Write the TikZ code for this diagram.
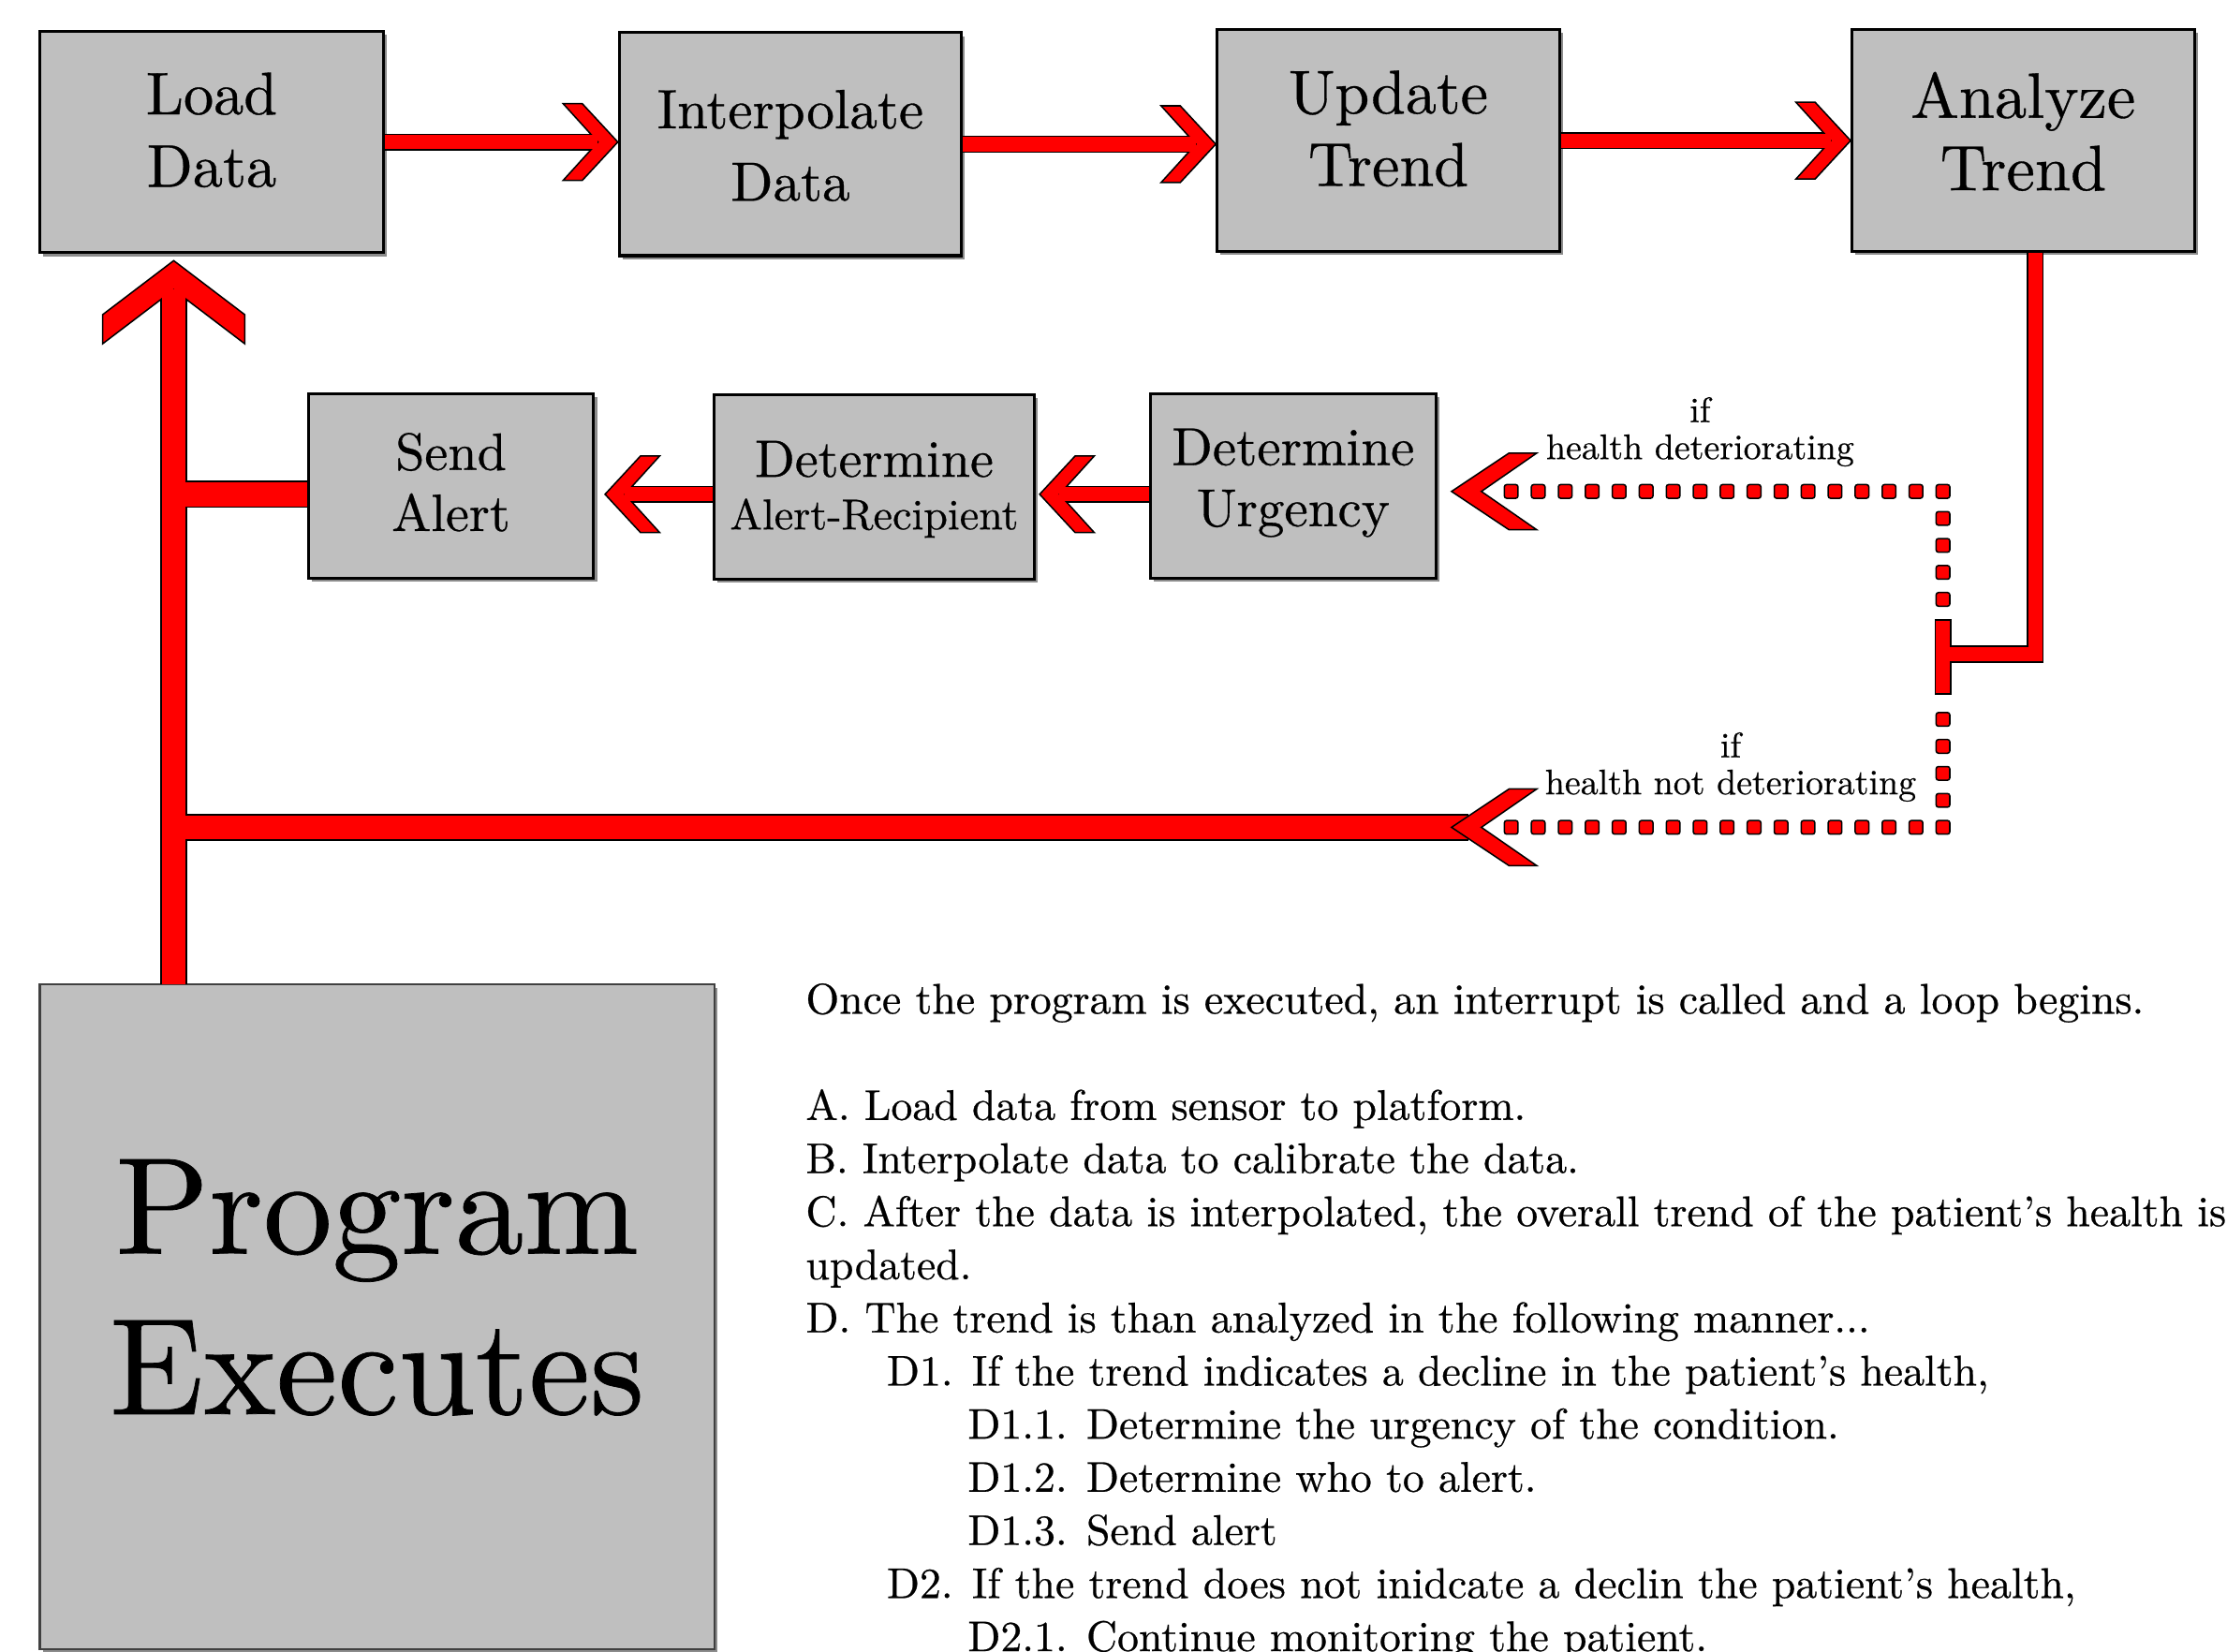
\documentclass[tikz,border=0pt]{standalone}
\usepackage{fontspec}
\setmainfont{lmroman10-regular.otf}[FakeBold=0.5]
\usetikzlibrary{calc,shadows,decorations.markings}
\definecolor{boxgray}{RGB}{191,191,191}
\newcommand\fs[2]{\fontsize{#1}{#2}\selectfont}
\begin{document}
\begin{tikzpicture}[x=0.5pt,y=-0.5pt,
  box/.style={draw=black, line width=1pt, fill=boxgray, inner sep=0pt,
    drop shadow={shadow xshift=1.2pt, shadow yshift=-1.2pt, opacity=0.45, fill=black}},
  progbox/.style={box, line width=0.7pt, draw=black!75},
  lbl/.style={align=center, inner sep=0pt, text=black},
  blkthin/.style={draw=black, line width=6pt, line join=miter},
  redthin/.style={draw=red, line width=5pt, line join=miter},
  blkthick/.style={draw=black, line width=9.5pt, line join=miter},
  redthick/.style={draw=red, line width=8.5pt, line join=miter},
  chev/.style={fill=red, draw=black, line width=0.5pt, line join=miter, miter limit=20},
  dotfill/.style={fill=red, draw=black, line width=0.5pt, rounded corners=0.8pt},
  dotline/.style={postaction={decorate}, decoration={markings,
    mark=between positions 0 and 1 step 9.5pt with {\path[dotfill] (-2.4pt,-2.4pt) rectangle (2.4pt,2.4pt);}}},
  chevS/.pic={\path[chev] (0,0) -- (-25,-27) -- (-38.5,-27) -- (-14,0) -- (-38.5,27) -- (-25,27) -- cycle;},
  chevL/.pic={\path[chev] (0,0) -- (-40.5,-27) -- (-60,-27) -- (-21,0) -- (-60,27) -- (-40.5,27) -- cycle;},
  chevB/.pic={\path[chev] (0,0) -- (-38,-50) -- (-58.5,-50) -- (-20.5,0) -- (-58.5,50) -- (-38,50) -- cycle;},
]
\fill[white] (0,0) rectangle (1568,1163);
\useasboundingbox (0,0) rectangle (1568,1163);

% ---------- boxes ----------
\node[box, minimum width=121pt, minimum height=78pt,
  label={[lbl, font=\fs{21.2}{25.5}, yshift=4.25pt]center:{Load\\Data}}] (load) at (149,100) {};
\node[box, minimum width=120.5pt, minimum height=78.5pt,
  label={[lbl, font=\fs{19.5}{25.5}, yshift=-0.5pt]center:{Interpolate\\Data}}] (interp) at (556.5,101.5) {};
\node[box, minimum width=120.5pt, minimum height=78pt,
  label={[lbl, font=\fs{21.8}{25.5}, yshift=4.25pt]center:{Update\\Trend}}] (update) at (977.5,99) {};
\node[box, minimum width=120.5pt, minimum height=78pt,
  label={[lbl, font=\fs{22.6}{25.5}, yshift=3.25pt]center:{Analyze\\Trend}}] (analyze) at (1424.5,99) {};
\node[box, minimum width=100.5pt, minimum height=65pt,
  label={[lbl, font=\fs{18.5}{21.5}, yshift=1.25pt]center:{Send\\Alert}}] (send) at (317.5,342) {};
\node[box, minimum width=112.5pt, minimum height=65pt,
  label={[lbl, font=\fs{15.2}{18.5}, yshift=-0.75pt]center:{{\fontsize{18.5}{18.5}\selectfont Determine}\\Alert-Recipient}}] (recip) at (615.5,343) {};
\node[box, minimum width=100.5pt, minimum height=65pt,
  label={[lbl, font=\fs{18.8}{21.5}, yshift=1pt]center:{Determine\\Urgency}}] (urg) at (910.5,342) {};
\node[progbox, minimum width=237.5pt, minimum height=234pt,
  label={[lbl, font=\fs{48.5}{56.5}, yshift=10.25pt]center:{Program\\Executes}}] (prog) at (265.5,927) {};

% ---------- coordinates ----------
\coordinate (t1) at (load.east -| interp.west);
\coordinate (t2) at (interp.east -| update.west);
\coordinate (t3) at (update.east -| analyze.west);
\coordinate (u0) at ($(urg.west)+(0,6)$);
\coordinate (t5) at ($(u0 -| recip.east)+(3,0)$);
\coordinate (r0) at ($(recip.west)+(0,5)$);
\coordinate (t6) at ($(r0 -| send.east)+(7,0)$);
\coordinate (aOut) at ($(analyze.south)+(8.5,0)$);
\coordinate (jMid) at (1368,460.5);
\coordinate (jTop) at (1368,437);
\coordinate (jBot) at (1368,488);
\coordinate (pTop) at (122.3,693);
\coordinate (tB) at (122.3,183.5);
\coordinate (jL1) at (122.3,348);
\coordinate (jL2) at (122.3,582.5);
\coordinate (b3end) at (1034,582.5);
\coordinate (dTip1) at (1022,346);
\coordinate (dTip2) at (1022,582.5);
\coordinate (dS1) at (1064,346);
\coordinate (dS2) at (1064,582.5);

% ---------- black outlines ----------
\path[blkthick] (pTop) -- ($(tB)+(0,15)$);
\path[blkthick] (jL1) -- (jL1 -| send.west);
\path[blkthick] (jL2) -- (b3end);
\path[blkthin] (load.east |- t1) -- ($(t1)+(-10,0)$);
\path[blkthin] (interp.east |- t2) -- ($(t2)+(-10,0)$);
\path[blkthin] (update.east |- t3) -- ($(t3)+(-10,0)$);
\path[blkthin] (u0) -- ($(t5)+(10,0)$);
\path[blkthin] (r0) -- ($(t6)+(10,0)$);
\path[blkthin] (aOut) |- (jMid);
\path[blkthin] ($(jTop)+(0,-1)$) -- ($(jBot)+(0,1)$);

% ---------- chevrons ----------
\pic at (t1) {chevS};
\pic at (t2) {chevS};
\pic at (t3) {chevS};
\pic[rotate=180] at (t5) {chevS};
\pic[rotate=180] at (t6) {chevS};
\pic[rotate=90] at (tB) {chevB};

% ---------- red fills ----------
\path[redthick] (pTop) -- ($(tB)+(0,20.5)$);
\path[redthick] (jL1) -- (jL1 -| send.west);
\path[redthick] (jL2) -- (b3end);
\path[redthin] (load.east |- t1) -- ($(t1)+(-14,0)$);
\path[redthin] (interp.east |- t2) -- ($(t2)+(-14,0)$);
\path[redthin] (update.east |- t3) -- ($(t3)+(-14,0)$);
\path[redthin] (u0) -- ($(t5)+(14,0)$);
\path[redthin] (r0) -- ($(t6)+(14,0)$);
\path[redthin] (aOut) |- (jMid);
\path[redthin] (jTop) -- (jBot);

% ---------- dotted branches ----------
\path[dotline] (dS1) -| (jTop);
\path[dotline] (dS2) -| (jBot);
\pic[rotate=180] at (dTip1) {chevL};
\pic[rotate=180] at (dTip2) {chevL};

\node[lbl, font=\fs{12.5}{13}] (condYes) at (1197,304) {if\\health deteriorating};
\node[lbl, font=\fs{12.5}{13}] (condNo) at (1218.5,540) {if\\health not deteriorating};

% ---------- description ----------
\node[anchor=north west, align=left, inner sep=0pt, font=\fs{15.1}{18.7}] (desc) at (567,692) {Once the program is executed, an interrupt is called and a loop begins.\\[18.7pt]
A. Load data from sensor to platform.\\
B. Interpolate data to calibrate the data.\\
C. After the data is interpolated, the overall trend of the patient’s health is\\
updated.\\
D. The trend is than analyzed in the following manner...\\
\hspace*{28.5pt}D1. If the trend indicates a decline in the patient’s health,\\
\hspace*{57pt}D1.1. Determine the urgency of the condition.\\
\hspace*{57pt}D1.2. Determine who to alert.\\
\hspace*{57pt}D1.3. Send alert\\
\hspace*{28.5pt}D2. If the trend does not inidcate a declin the patient’s health,\\
\hspace*{57pt}D2.1. Continue monitoring the patient.};
\end{tikzpicture}
\end{document}
